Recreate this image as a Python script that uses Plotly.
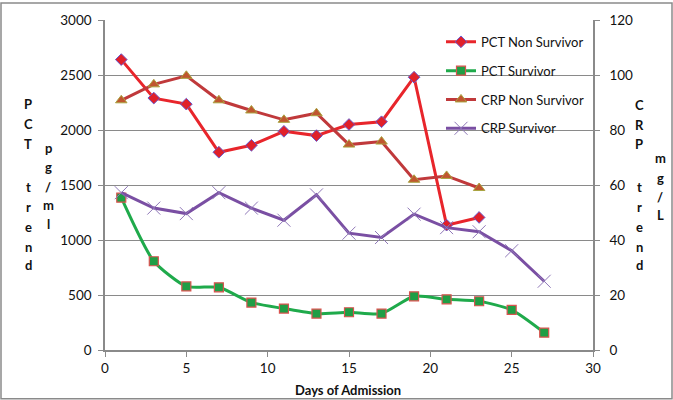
import plotly.graph_objects as go

days = [1, 3, 5, 7, 9, 11, 13, 15, 17, 19, 21, 23, 25, 27]

pct_non_survivor = [2640, 2290, 2235, 1798, 1861, 1988, 1949, 2050, 2075, 2480, 1135, 1205]
pct_survivor = [1385, 807, 578, 570, 431, 377, 331, 343, 331, 488, 461, 443, 365, 158]
crp_non_survivor = [90.8, 96.6, 99.7, 90.8, 87.1, 83.7, 86.1, 74.7, 75.8, 61.9, 63.3, 58.9]
crp_survivor = [57.2, 51.6, 49.6, 57.2, 51.6, 47.2, 56.4, 42.5, 40.9, 49.4, 44.5, 43.0, 36.1, 25.0]

x_ticks = [0, 5, 10, 15, 20, 25, 30]
pct_ticks = [0, 500, 1000, 1500, 2000, 2500, 3000]
crp_ticks = [0, 20, 40, 60, 80, 100, 120]

FONT = "Lato, Carlito, 'Open Sans', sans-serif"
GRID = "#8a8a8a"

fig = go.Figure()

fig.add_trace(go.Scatter(
    x=days[:len(pct_non_survivor)], y=pct_non_survivor, name="PCT Non Survivor",
    mode="lines+markers", line=dict(color="#e8252b", width=3),
    marker=dict(symbol="diamond", size=9, color="#e0202a", line=dict(color="#6a5acd", width=1)),
    legend="legend", yaxis="y"))

fig.add_trace(go.Scatter(
    x=days[:len(pct_survivor)], y=pct_survivor, name="PCT Survivor",
    mode="lines+markers", line=dict(color="#1faa4b", width=3, shape="spline", smoothing=0.6),
    marker=dict(symbol="square", size=9, color="#1f9e45", line=dict(color="#d9534f", width=1.2)),
    legend="legend2", yaxis="y"))

fig.add_trace(go.Scatter(
    x=days[:len(crp_non_survivor)], y=crp_non_survivor, name="CRP Non Survivor",
    mode="lines+markers", line=dict(color="#c0393b", width=3),
    marker=dict(symbol="triangle-up", size=10, color="#c0562f", line=dict(color="#a9a440", width=1)),
    legend="legend3", yaxis="y2"))

fig.add_trace(go.Scatter(
    x=days[:len(crp_survivor)], y=crp_survivor, name="CRP Survivor",
    mode="lines+markers", line=dict(color="#7a4fa3", width=3),
    marker=dict(symbol="x-thin", size=13, color="#8f78b8", line=dict(color="#8f78b8", width=1)),
    legend="legend4", yaxis="y2"))

W, H = 673, 400
L, R, T, B = 105, 80, 18, 50
pw, ph = W - L - R, H - T - B

def px_x(px):
    return (px - L) / pw

def px_y(py):
    return (H - B - py) / ph

legend_common = dict(bgcolor="rgba(0,0,0,0)", borderwidth=0, font=dict(family=FONT, size=13, color="#111"),
                     xanchor="left", yanchor="middle", itemwidth=30)
legend_x = px_x(441)

tickfont = dict(family=FONT, size=13.5, color="#111")

fig.update_layout(
    width=W, height=H,
    margin=dict(l=L, r=R, t=T, b=B),
    paper_bgcolor="white", plot_bgcolor="white",
    font=dict(family=FONT, size=13, color="#111"),
    showlegend=True,
    legend=dict(x=legend_x, y=px_y(40), **legend_common),
    legend2=dict(x=legend_x, y=px_y(69), **legend_common),
    legend3=dict(x=legend_x, y=px_y(98), **legend_common),
    legend4=dict(x=legend_x, y=px_y(127), **legend_common),
    xaxis=dict(range=[0, 30], tickvals=x_ticks, showgrid=False, zeroline=False,
               showline=True, linecolor=GRID, linewidth=1.5, ticks="outside", ticklen=5,
               tickcolor=GRID, tickfont=tickfont),
    yaxis=dict(range=[0, 3000], tickvals=pct_ticks, showgrid=True, gridcolor=GRID, gridwidth=1.2,
               zeroline=False, showline=True, linecolor=GRID, linewidth=1.5, ticks="outside",
               ticklen=5, tickcolor=GRID, tickfont=tickfont, ticklabelstandoff=4),
    yaxis2=dict(range=[0, 120], tickvals=crp_ticks, overlaying="y", side="right", showgrid=False,
                zeroline=False, showline=True, linecolor=GRID, linewidth=1.5, ticks="outside",
                ticklen=5, tickcolor=GRID, tickfont=tickfont, ticklabelstandoff=7),
)

# Outer frame
fig.add_shape(type="rect", xref="paper", yref="paper",
              x0=px_x(1), x1=px_x(672), y0=px_y(399), y1=px_y(1),
              line=dict(color="#8a8a8a", width=1.5), fillcolor="rgba(0,0,0,0)", layer="below")

def stacked(letters, xpx, ypositions):
    for ch, yp in zip(letters, ypositions):
        fig.add_annotation(
            text="<b>" + ch + "</b>", xref="paper", yref="paper",
            x=px_x(xpx), y=px_y(yp), xanchor="center", yanchor="middle", showarrow=False,
            font=dict(family=FONT, size=13, color="#111"))

stacked(["P", "C", "T", "t", "r", "e", "n", "d"], 28, [103, 123, 143, 186, 206, 226, 246, 264])
stacked(["p", "g", "/", "m", "l"], 48, [147, 166, 186, 204, 223])
stacked(["C", "R", "P", "t", "r", "e", "n", "d"], 639, [104, 124, 143, 186, 206, 226, 246, 264])
stacked(["m", "g", "/", "L"], 660, [157, 177, 196, 214])

fig.add_annotation(text="<b>Days of Admission</b>", xref="paper", yref="paper",
                   x=px_x(348), y=px_y(390), xanchor="center", yanchor="middle",
                   showarrow=False, font=dict(family=FONT, size=13, color="#111"))

fig.write_html("out.html", config={"displayModeBar": False},
               post_script="document.body.style.margin='0';document.body.style.padding='0';")
